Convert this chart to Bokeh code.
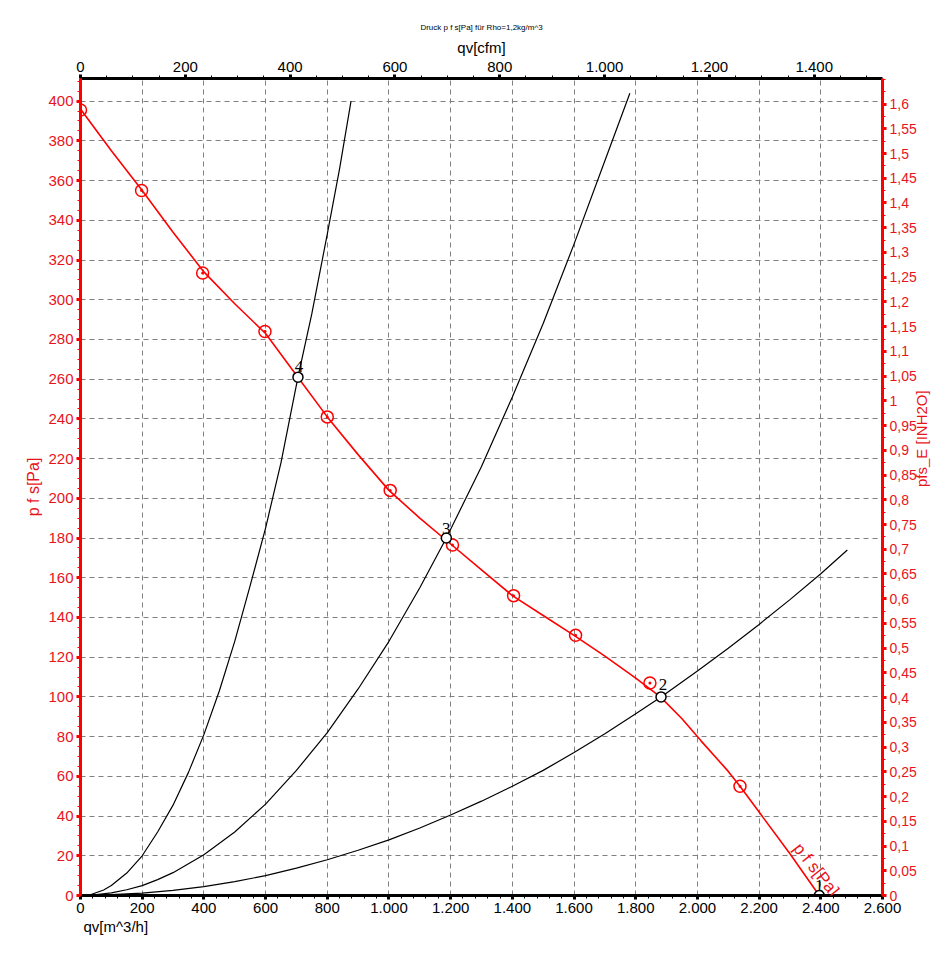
import math
from bokeh.plotting import figure
from bokeh.models import Range1d, LinearAxis, FixedTicker, Label, Title
from bokeh.embed import file_html
from bokeh.resources import INLINE

# ---------------- data ----------------
# fan curve (static pressure p f s [Pa] vs. volume flow qv [m^3/h])
fan_q = [0, 100, 200, 300, 400, 500, 600, 700, 800, 900, 1000, 1100, 1200, 1300,
         1400, 1500, 1600, 1700, 1800, 1880, 1950, 2011, 2100, 2138, 2200, 2300, 2395]
fan_p = [396, 375, 355, 334, 314, 298, 283, 262, 241, 222, 204, 190, 177, 164,
         151, 141, 131, 120.5, 109.5, 100, 89, 78, 62.5, 55, 42, 21, 0]

# measured points (red markers)
meas_q = [0, 198, 396, 598, 800, 1004, 1206, 1404, 1605, 1846, 2138]
meas_p = [395.5, 355, 313.5, 284, 241, 204, 176.5, 151, 131, 107, 55]

# system curves
sys2_q = [25, 100, 200, 300, 400, 500, 600, 700, 800, 900, 1000, 1100, 1200, 1300,
          1400, 1500, 1600, 1700, 1800, 1882, 2000, 2100, 2200, 2300, 2400, 2486]
sys2_p = [0, 0.4, 1.2, 2.6, 4.5, 7, 10, 13.8, 18, 22.8, 28, 34, 40.5, 47.5,
          55, 63, 72, 81.5, 91.5, 100, 113, 124.5, 136.5, 149, 162, 174]
sys3_q = [25, 100, 150, 200, 250, 300, 400, 500, 600, 700, 800, 900, 1000, 1100, 1186,
          1300, 1400, 1500, 1600, 1700, 1781]
sys3_p = [0, 1.3, 2.9, 5, 8, 11.5, 20.5, 32, 46, 63, 82, 104, 128, 155, 180,
          216, 251, 288, 328, 370, 404]
sys4_q = [25, 75, 100, 150, 200, 250, 300, 350, 400, 450, 500, 550, 600, 650, 705,
          750, 800, 840, 877]
sys4_p = [0, 2.8, 5, 11.3, 20, 32, 45.5, 62, 81, 103, 128, 156, 185, 218, 261,
          293, 333, 366, 400]

# operating points
op_q = [2395, 1882, 1186, 705]
op_p = [0, 100, 180, 261]
op_labels = ["1", "2", "3", "4"]

# tick labels
x_tick_labels = ["0", "200", "400", "600", "800", "1.000", "1.200", "1.400", "1.600",
                 "1.800", "2.000", "2.200", "2.400", "2.600"]
y_tick_labels = ["0", "20", "40", "60", "80", "100", "120", "140", "160", "180", "200",
                 "220", "240", "260", "280", "300", "320", "340", "360", "380", "400"]
cfm_tick_labels = ["0", "200", "400", "600", "800", "1.000", "1.200", "1.400"]
inh2o_tick_labels = ["0", "0,05", "0,1", "0,15", "0,2", "0,25", "0,3", "0,35", "0,4",
                     "0,45", "0,5", "0,55", "0,6", "0,65", "0,7", "0,75", "0,8", "0,85",
                     "0,9", "0,95", "1", "1,05", "1,1", "1,15", "1,2", "1,25", "1,3",
                     "1,35", "1,4", "1,45", "1,5", "1,55", "1,6"]

title_text = "Druck p f s[Pa] für Rho=1,2kg/m^3"
x_label = "qv[m^3/h]"
y_label = "p f s[Pa]"
cfm_label = "qv[cfm]"
inh2o_label = "pfs_E [INH2O]"
curve_label = "p f s[Pa]"

X_MAX = 2600
Y_MAX = 411.4
CFM_PER_M3H = 1 / 1.69901
INH2O_PER_PA = 1 / 249.089

RED = "#ff0000"
RED_TXT = "#e8141c"
FONT = "Liberation Sans"

# ---------------- figure ----------------
p = figure(frame_width=802, frame_height=817,
           x_range=Range1d(0, X_MAX), y_range=Range1d(0, Y_MAX),
           output_backend="svg", toolbar_location=None, title=None,
           min_border_left=80, min_border_top=78, min_border_right=50,
           min_border_bottom=45, background_fill_color="white",
           border_fill_color="white")
p.outline_line_color = None

p.extra_x_ranges = {"cfm": Range1d(0, X_MAX * CFM_PER_M3H)}
p.extra_y_ranges = {"inh2o": Range1d(0, Y_MAX * INH2O_PER_PA)}

def parse(s, dec="."):
    return float(s.replace(".", "").replace(",", ".")) if dec == "." else float(s.replace(",", "."))

x_ticks = [int(parse(s)) for s in x_tick_labels]
y_ticks = [int(parse(s)) for s in y_tick_labels]
cfm_ticks = [int(parse(s)) for s in cfm_tick_labels]
inh2o_ticks = [round(parse(s, ","), 2) for s in inh2o_tick_labels]

x_ticker = FixedTicker(ticks=x_ticks, minor_ticks=list(range(0, 2601, 40)))
y_ticker = FixedTicker(ticks=y_ticks, minor_ticks=list(range(0, 411, 5)))
cfm_ticker = FixedTicker(ticks=cfm_ticks, minor_ticks=list(range(0, 1531, 50)))
inh2o_ticker = FixedTicker(ticks=inh2o_ticks,
                           minor_ticks=[round(i * 0.025, 3) for i in range(0, 67)])

def style_axis(ax, color, txt_color):
    ax.axis_line_color = color
    ax.axis_line_width = 3
    ax.major_tick_line_color = color
    ax.major_tick_line_width = 3
    ax.minor_tick_line_color = color
    ax.minor_tick_line_width = 1
    ax.major_tick_out = 4
    ax.major_tick_in = 0
    ax.minor_tick_out = 3
    ax.minor_tick_in = 0
    ax.major_label_text_font = FONT
    ax.major_label_text_font_size = "15px"
    ax.major_label_text_color = txt_color
    ax.major_label_standoff = 3
    ax.axis_label_text_font = FONT
    ax.axis_label_text_font_size = "15px"
    ax.axis_label_text_font_style = "normal"
    ax.axis_label_text_color = txt_color

# bottom axis
xa = p.xaxis[0]
xa.ticker = x_ticker
xa.major_label_overrides = dict(zip(x_ticks, x_tick_labels))
style_axis(xa, "black", "black")

# left axis
ya = p.yaxis[0]
ya.ticker = y_ticker
ya.major_label_overrides = dict(zip(y_ticks, y_tick_labels))
style_axis(ya, RED, RED_TXT)
ya.axis_label = y_label
ya.axis_label_standoff = 3
ya.axis_label_text_font_size = "16px"

# top axis
ta = LinearAxis(x_range_name="cfm", ticker=cfm_ticker)
ta.major_label_overrides = dict(zip(cfm_ticks, cfm_tick_labels))
style_axis(ta, "black", "black")
ta.axis_label = cfm_label
ta.axis_label_standoff = 3
p.add_layout(ta, "above")

# right axis
ra = LinearAxis(y_range_name="inh2o", ticker=inh2o_ticker)
ra.major_label_overrides = dict(zip(inh2o_ticks, inh2o_tick_labels))
style_axis(ra, RED, RED_TXT)
ra.major_label_text_font_size = "14px"
ra.axis_label = inh2o_label
ra.axis_label_standoff = 2
ra.axis_label_orientation = math.pi / 2
p.add_layout(ra, "right")

# titles (chart title above, x-axis label below-left)
p.add_layout(Title(text=title_text, align="center", text_font=FONT,
                   text_font_size="8px", text_font_style="normal",
                   text_color="black", standoff=8), "above")
p.add_layout(Title(text=x_label, align="left", offset=3, text_font=FONT,
                   text_font_size="15px", text_font_style="normal",
                   text_color="black", standoff=0), "below")

# grids
p.xgrid.ticker = x_ticker
p.ygrid.ticker = y_ticker
for g in (p.xgrid, p.ygrid):
    g.grid_line_color = "#808080"
    g.grid_line_dash = "5 4"
    g.grid_line_width = 1

# system curves
for q, pr in ((sys2_q, sys2_p), (sys3_q, sys3_p), (sys4_q, sys4_p)):
    p.line(q, pr, line_color="black", line_width=1.2)

# fan curve
p.line(fan_q, fan_p, line_color=RED, line_width=1.6)
p.scatter(meas_q, meas_p, marker="circle_dot", size=12, line_color=RED,
          fill_color=None, line_width=1.5)

# operating points
p.scatter(op_q, op_p, marker="circle", size=10, fill_color="white",
          line_color="black", line_width=1.5)
op_offsets = [(0, -5), (2, -7), (0, -4), (1, -5)]
for q, pr, lbl, (dx, dy) in zip(op_q, op_p, op_labels, op_offsets):
    p.text(x=[q], y=[pr], text=[lbl], x_offset=dx, y_offset=dy,
           text_align="center", text_baseline="bottom",
           text_font=FONT, text_font_size="17px", text_color="black")

# label along the fan curve
p.add_layout(Label(x=2385, y=13, text=curve_label, angle=-0.9, text_align="center",
                   text_baseline="middle", text_font=FONT, text_font_size="17px",
                   text_color=RED_TXT))

open("out.html", "w").write(file_html(p, INLINE))
